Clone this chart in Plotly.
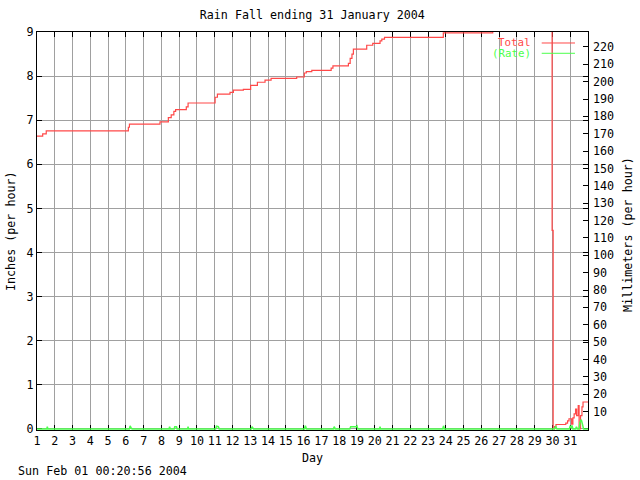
import plotly.graph_objects as go

# ---- data ----
total_days = [1.00, 1.32, 1.52, 6.14, 6.20, 7.92, 8.39, 8.55, 8.70, 8.80, 9.40, 9.50,
              11.02, 11.15, 11.86, 12.05, 12.61, 13.02, 13.40, 13.83, 14.17, 15.61,
              16.04, 16.15, 16.46, 17.55, 17.65, 18.52, 18.62, 18.72, 18.80, 19.55,
              19.89, 20.30, 20.40, 20.55, 23.86, 26.64, 29.98, 30.04, 30.12, 30.20,
              30.75, 30.85, 30.93, 31.08, 31.15, 31.22, 31.30, 31.36, 31.45, 31.50,
              31.58, 31.66, 31.72, 32.00]
total_in = [6.64, 6.69, 6.76, 6.84, 6.91, 6.96, 7.06, 7.12, 7.20, 7.24, 7.30, 7.39,
            7.52, 7.59, 7.63, 7.68, 7.70, 7.79, 7.86, 7.91, 7.95, 7.98,
            8.07, 8.10, 8.13, 8.18, 8.23, 8.29, 8.40, 8.50, 8.61, 8.70,
            8.74, 8.80, 8.84, 8.88, 8.98, 9.15, 4.50, 0.00, 0.05, 0.10,
            0.13, 0.18, 0.23, 0.11, 0.25, 0.34, 0.45, 0.30, 0.53, 0.00,
            0.30, 0.50, 0.61, 0.61]

rate_days = [1.00, 1.55, 1.58, 1.61, 6.20, 6.24, 6.30, 6.35, 8.43, 8.46, 8.50, 8.72,
             8.75, 8.85, 8.88, 9.47, 9.50, 9.53, 11.05, 11.10, 11.20, 11.25, 13.05,
             13.10, 13.18, 16.05, 16.10, 16.16, 17.68, 17.72, 17.78, 18.60, 18.65,
             18.95, 19.00, 19.05, 20.27, 20.30, 20.33, 23.83, 23.87, 23.92, 30.10,
             30.18, 30.25, 30.95, 31.00, 31.05, 31.10, 31.15, 31.30, 31.35, 31.40,
             31.50, 31.55, 31.62, 31.68, 31.75, 32.00]
rate_in = [0, 0, 0.05, 0, 0, 0.07, 0.02, 0, 0, 0.05, 0, 0,
           0.05, 0.05, 0, 0, 0.05, 0, 0, 0.06, 0.05, 0, 0,
           0.05, 0, 0, 0.07, 0, 0, 0.05, 0, 0, 0.05,
           0.05, 0.07, 0, 0, 0.05, 0, 0, 0.07, 0, 0,
           0.05, 0, 0, 0.07, 0.02, 0.08, 0, 0, 0.05, 0,
           0, 0.15, 0.21, 0.12, 0, 0]

day_ticks = list(range(1, 32))
inch_ticks = list(range(0, 10))
mm_ticks = list(range(10, 230, 10))

title_text = "Rain Fall ending 31 January 2004"
stamp_text = "Sun Feb 01 00:20:56 2004"

RED = "#ff4848"
GREEN = "#4cff4c"
GRID = "#a0a0a0"
FONT = dict(family="DejaVu Sans Mono", size=11.7, color="black")
Y_LO = -0.025  # tiny offset so the zero-level line is not clipped

fig = go.Figure()
fig.add_trace(go.Scatter(x=total_days, y=total_in, mode="lines", name="Total",
                         line=dict(color=RED, width=1.2, shape="hv"), showlegend=False))
fig.add_trace(go.Scatter(x=rate_days, y=rate_in, mode="lines", name="(Rate)",
                         line=dict(color=GREEN, width=1.5), showlegend=False))
# invisible trace to activate right axis
fig.add_trace(go.Scatter(x=[1], y=[0], yaxis="y2", mode="markers",
                         marker=dict(opacity=0), showlegend=False, hoverinfo="skip"))

fig.update_layout(
    width=640, height=480,
    margin=dict(l=37, r=52, t=32, b=50),
    paper_bgcolor="white", plot_bgcolor="white",
    font=FONT,
    title=dict(text=title_text, x=0.488, xanchor="center", y=1 - 15 / 480,
               yanchor="middle", yref="container", font=FONT),
    xaxis=dict(range=[1, 32], tickvals=day_ticks, ticks="inside", ticklen=5,
               tickcolor="black", showline=True, linecolor="black", linewidth=1,
               mirror="ticks", showgrid=True, gridcolor=GRID, gridwidth=1,
               zeroline=False, layer="below traces", tickfont=FONT),
    yaxis=dict(range=[Y_LO, 9], tickvals=inch_ticks, ticks="inside", ticklen=5,
               tickcolor="black", showline=True, linecolor="black", linewidth=1,
               mirror="ticks", showgrid=True, gridcolor=GRID, gridwidth=1,
               zeroline=False, layer="below traces", tickfont=FONT),
    yaxis2=dict(range=[Y_LO * 25.4, 9 * 25.4], tickvals=mm_ticks, ticks="inside",
                ticklen=5, tickcolor="black", overlaying="y", side="right",
                showgrid=False, showline=False, zeroline=False, tickfont=FONT,
                ticklabelstandoff=4),
)

LEG_FONT = 10.8
ann = [
    dict(text="Day", x=0.5, y=-0.0704, xref="paper", yref="paper",
         xanchor="center", yanchor="middle", showarrow=False, font=FONT),
    dict(text=stamp_text, x=-0.0381, y=-0.103, xref="paper", yref="paper",
         xanchor="left", yanchor="middle", showarrow=False, font=FONT),
    dict(text="Inches (per hour)", x=-0.0472, y=0.5, xref="paper", yref="paper",
         xanchor="center", yanchor="middle", textangle=-90, showarrow=False, font=FONT),
    dict(text="Millimeters (per hour)", x=1.0726, y=0.49, xref="paper", yref="paper",
         xanchor="center", yanchor="middle", textangle=-90, showarrow=False, font=FONT),
    dict(text="Total", x=0.900, y=0.9740, xref="paper", yref="paper",
         xanchor="right", yanchor="middle", showarrow=False,
         font=dict(family=FONT["family"], size=LEG_FONT, color=RED)),
    dict(text="(Rate)", x=0.900, y=0.9450, xref="paper", yref="paper",
         xanchor="right", yanchor="middle", showarrow=False,
         font=dict(family=FONT["family"], size=LEG_FONT, color=GREEN)),
]
fig.update_layout(annotations=ann)
fig.add_shape(type="line", xref="paper", yref="paper", x0=0.916, x1=0.9764,
              y0=0.9724, y1=0.9724, line=dict(color=RED, width=1))
fig.add_shape(type="line", xref="paper", yref="paper", x0=0.916, x1=0.9764,
              y0=0.9465, y1=0.9465, line=dict(color=GREEN, width=1))

fig.write_html("out.html", config={"displayModeBar": False},
               post_script="document.body.style.margin='0';document.body.style.padding='0';")
